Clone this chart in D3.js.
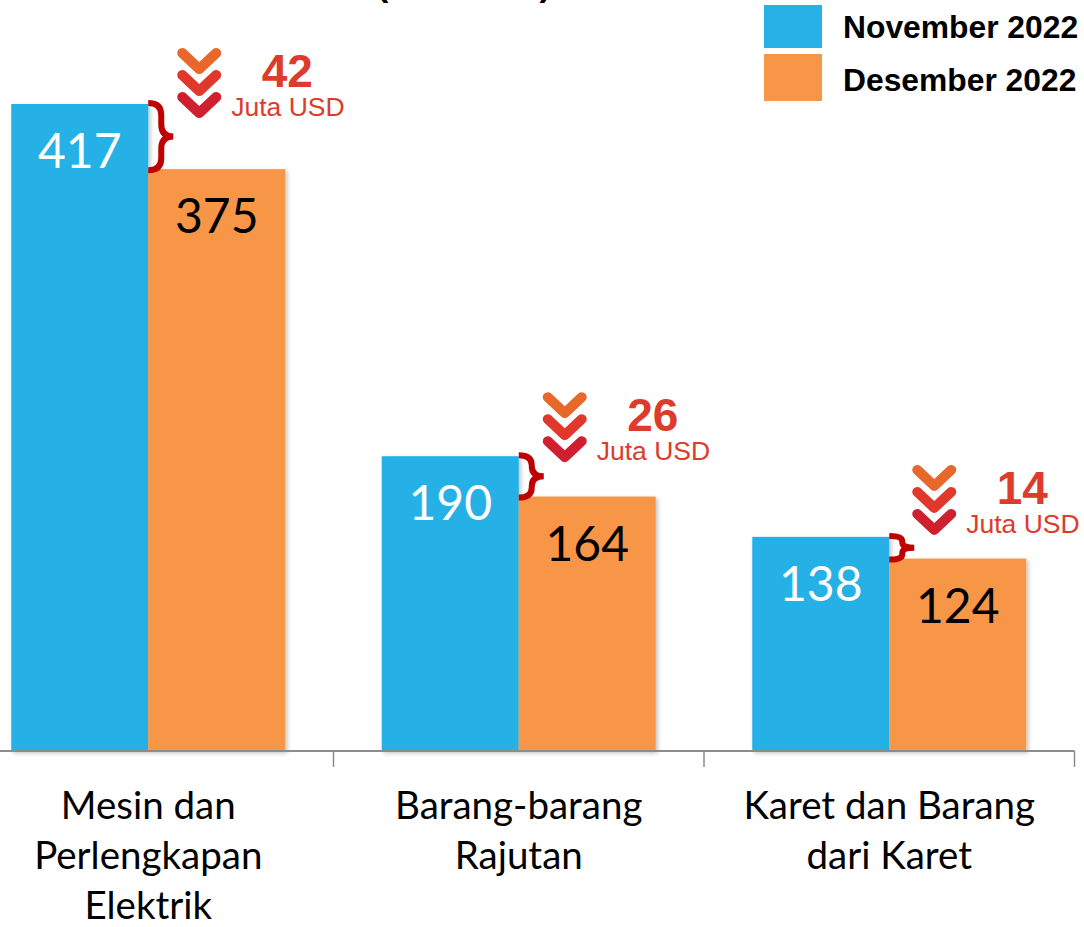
<!DOCTYPE html>
<html>
<head>
<meta charset="utf-8">
<script src="https://cdn.jsdelivr.net/npm/d3@7"></script>
<style>
html,body{margin:0;padding:0;background:#fff;}
svg{display:block;}
</style>
</head>
<body>
<svg id="chart" width="1084" height="927"></svg>
<script>
// ---- data ----
const categories = [["Mesin dan","Perlengkapan","Elektrik"],["Barang-barang","Rajutan"],["Karet dan Barang","dari Karet"]];
const categoryKeys = ["Mesin dan Perlengkapan Elektrik","Barang-barang Rajutan","Karet dan Barang dari Karet"];
const seriesNames = ["November 2022","Desember 2022"];
const novValues = [417,190,138];
const desValues = [375,164,124];
const diffValues = [42,26,14];
const diffUnit = "Juta USD";
const titleText = "(Juta USD)";

const colors = ["#28b1e6","#f79646"];
const chevColors = ["#e8672a","#e0392b","#cf2030"];
const redText = "#dd3b2b";

const svg = d3.select("#chart");
const defs = svg.append("defs");
const f = defs.append("filter").attr("id","sh").attr("x","-10%").attr("y","-10%").attr("width","130%").attr("height","130%");
f.append("feDropShadow").attr("dx",2).attr("dy",2).attr("stdDeviation",2).attr("flood-color","#000").attr("flood-opacity",0.25);

const baseY = 751;
const y = d3.scaleLinear().domain([0,417]).range([baseY,104]);
const x0 = d3.scaleBand().domain(categoryKeys).range([-37,1074.5]).padding(0);
const barW = 137;
const x1 = d3.scaleBand().domain(seriesNames)
  .range([(x0.bandwidth()-2*barW)/2,(x0.bandwidth()+2*barW)/2]).padding(0);

// title (cut off at top, as in the reference)
svg.append("text").attr("x",464).attr("y",-4).attr("text-anchor","middle")
  .attr("font-family","Liberation Sans, Arial, sans-serif").attr("font-weight","bold")
  .attr("font-size",34).attr("fill","#000").text(titleText);

// bars
const rows = categoryKeys.map((k,i)=>({key:k,i,vals:[novValues[i],desValues[i]]}));
const g = svg.selectAll("g.grp").data(rows).join("g").attr("class","grp")
  .attr("transform",d=>`translate(${x0(d.key)},0)`);
g.selectAll("rect").data(d=>d.vals.map((v,j)=>({v,s:seriesNames[j],j})))
  .join("rect")
  .attr("x",d=>x1(d.s)).attr("width",x1.bandwidth())
  .attr("y",d=>y(d.v)).attr("height",d=>baseY-y(d.v))
  .attr("fill",d=>colors[d.j]).attr("filter","url(#sh)");

// value labels
g.selectAll("text.val").data(d=>d.vals.map((v,j)=>({v,s:seriesNames[j],j})))
  .join("text").attr("class","val")
  .attr("x",d=>x1(d.s)+x1.bandwidth()/2).attr("y",d=>y(d.v)+64)
  .attr("text-anchor","middle").attr("font-family","Lato, sans-serif")
  .attr("font-size",48).attr("fill",d=>d.j===0?"#fff":"#000").text(d=>d.v);

// axis
const axisG = svg.append("g");
axisG.append("line").attr("x1",x0.range()[0]).attr("x2",x0.range()[1])
  .attr("y1",baseY).attr("y2",baseY).attr("stroke","#8c8c8c").attr("stroke-width",2);
axisG.selectAll("line.tick").data(categoryKeys).join("line").attr("class","tick")
  .attr("x1",d=>Math.min(x0(d)+x0.bandwidth(),1075)).attr("x2",d=>Math.min(x0(d)+x0.bandwidth(),1075))
  .attr("y1",baseY).attr("y2",baseY+16).attr("stroke","#8c8c8c").attr("stroke-width",1.5);

// category labels
svg.selectAll("text.cat").data(categoryKeys).join("text").attr("class","cat")
  .attr("x",d=>x0(d)+x0.bandwidth()/2).attr("y",819)
  .attr("text-anchor","middle").attr("font-family","Lato, sans-serif")
  .attr("font-size",38.5).attr("fill","#000")
  .each(function(d,i){
    d3.select(this).selectAll("tspan").data(categories[i]).join("tspan")
      .attr("x",x0(d)+x0.bandwidth()/2).attr("dy",(t,k)=>k===0?0:50).text(t=>t);
  });

// legend
const lg = svg.append("g");
seriesNames.forEach((s,j)=>{
  lg.append("rect").attr("x",764).attr("y",j===0?5:54).attr("width",58).attr("height",j===0?43:47).attr("fill",colors[j]);
  lg.append("text").attr("x",843).attr("y",(j===0?27:80)+11)
    .attr("font-family","Liberation Sans, Arial, sans-serif").attr("font-weight","bold")
    .attr("font-size",31.8).attr("fill","#000").text(s);
});

// annotations: brace, chevrons, difference
const chevDX = [51,46,45];
rows.forEach((d,i)=>{
  const xo = x0(d.key)+x1(seriesNames[1]);
  const y1 = y(novValues[i]), y2 = y(desValues[i]);
  const ym = (y1+y2)/2;
  const r = Math.min(12,(y2-y1)/4);
  const xc = xo+13, xt = xo+25;
  const p = d3.path();
  p.moveTo(xo,y1-1);
  p.quadraticCurveTo(xc,y1-1,xc,y1-1+r);
  p.lineTo(xc,ym-r);
  p.quadraticCurveTo(xc,ym,xt,ym);
  p.quadraticCurveTo(xc,ym,xc,ym+r);
  p.lineTo(xc,y2+1-r);
  p.quadraticCurveTo(xc,y2+1,xo,y2+1);
  svg.append("path").attr("d",p.toString()).attr("fill","none")
    .attr("stroke","#c00000").attr("stroke-width",6);

  const cx = xo+chevDX[i];
  const top = y1-56-8*i;
  chevColors.forEach((c,k)=>{
    const ty = top+5+k*22;
    svg.append("path").attr("d",`M${cx-17},${ty} L${cx},${ty+16} L${cx+17},${ty}`)
      .attr("fill","none").attr("stroke",c).attr("stroke-width",10)
      .attr("stroke-linecap","round").attr("stroke-linejoin","round");
  });
  svg.append("text").attr("x",cx+88).attr("y",top+39).attr("text-anchor","middle")
    .attr("font-family","Liberation Sans, Arial, sans-serif").attr("font-weight","bold")
    .attr("font-size",46).attr("fill",redText).text(diffValues[i]);
  svg.append("text").attr("x",cx+32).attr("y",top+68)
    .attr("font-family","Liberation Sans, Arial, sans-serif")
    .attr("font-size",26.5).attr("fill",redText).text(diffUnit);
});
</script>
</body>
</html>
